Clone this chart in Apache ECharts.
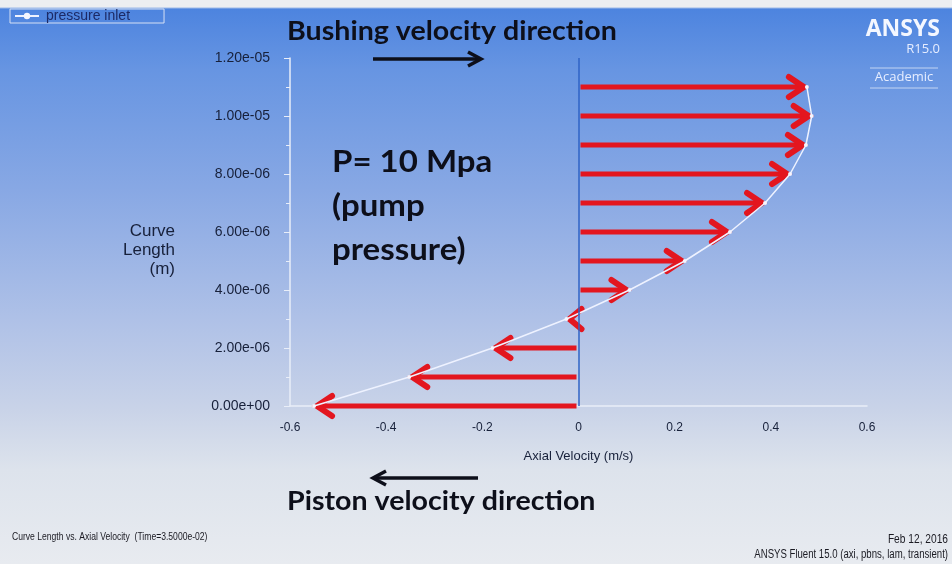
<!DOCTYPE html>
<html>
<head>
<meta charset="utf-8">
<script src="https://cdn.jsdelivr.net/npm/echarts@6/dist/echarts.min.js"></script>
<style>
  html, body { margin: 0; padding: 0; }
  #main {
    width: 952px;
    height: 564px;
    background: linear-gradient(to bottom, #eceef1 0px, #eceef1 7px, #4d84df 9px, #6795e2 70px, #88a8e4 190px, #afc1e7 320px, #c9d3e8 410px, #dde3ec 470px, #e8ebf0 564px);
  }
</style>
</head>
<body>
<div id="main"></div>
<script>
// curve length along the inlet (m) and axial velocity at each point (m/s)
const curveLength = [0, 1e-6, 2e-6, 3e-6, 4e-6, 5e-6, 6e-6, 7e-6, 8e-6, 9e-6, 1e-5, 1.1e-5]
const axialVelocity = [-0.55, -0.352, -0.179, -0.025, 0.106, 0.221, 0.315, 0.388, 0.44, 0.473, 0.485, 0.475]
const seriesName = 'pressure inlet'

const points = axialVelocity.map((v, i) => [v, curveLength[i]])

// 1.2e-5 -> "1.20e-05", the way fluent prints it
function sci(v) {
  if (Math.abs(v) < 1e-15) return '0.00e+00'
  const e = Math.floor(Math.log10(Math.abs(v)) + 1e-9)
  const m = v / Math.pow(10, e)
  const ex = Math.abs(e)
  return m.toFixed(2) + 'e' + (e < 0 ? '-' : '+') + (ex < 10 ? '0' + ex : ex)
}

const labelColor = '#17203a'
const ink = '#0d0f1a'
const bold = 'Lato, "Open Sans", sans-serif'
const small = 'Arial, "Liberation Sans", sans-serif'

// plain text helper, drawn at (x, y) and squeezed/stretched horizontally
function label(text, x, y, font, sx, align, extra) {
  return {
    type: 'text', silent: true, x: x, y: y, scaleX: sx,
    style: Object.assign({ text: text, x: 0, y: 0, font: font, fill: ink, align: align, verticalAlign: 'top' }, extra || {})
  }
}

const chart = echarts.init(document.getElementById('main'))
chart.setOption({
  backgroundColor: 'transparent',
  animation: false,
  grid: { left: 290, right: 85, top: 58, bottom: 158 },
  legend: {
    left: 10,
    top: 9,
    padding: [0, 34, 0, 4],
    borderColor: '#d6e0f4',
    borderWidth: 1,
    itemWidth: 24,
    itemHeight: 8,
    itemGap: 0,
    textStyle: { color: '#1c2a66', fontSize: 14, fontFamily: small, padding: [0, 0, 0, 2] },
    data: [seriesName]
  },
  xAxis: {
    type: 'value',
    min: -0.6,
    max: 0.6,
    interval: 0.2,
    splitLine: { show: false },
    axisLine: { onZero: false, lineStyle: { color: '#e9eef8', width: 1.5 } },
    axisTick: { show: false },
    axisLabel: { margin: 16, color: labelColor, fontSize: 12, fontFamily: small },
    name: 'Axial Velocity (m/s)',
    nameLocation: 'middle',
    nameGap: 44,
    nameTextStyle: { color: labelColor, fontSize: 13, fontFamily: small }
  },
  yAxis: {
    type: 'value',
    min: 0,
    max: 1.2e-5,
    interval: 2e-6,
    splitLine: { show: false },
    axisLine: { show: true, onZero: false, lineStyle: { color: '#e9eef8', width: 1.5 } },
    axisTick: { show: true, length: 6, lineStyle: { color: '#e9eef8' } },
    minorTick: { show: true, splitNumber: 2, length: 4, lineStyle: { color: '#e9eef8' } },
    axisLabel: { margin: 20, color: labelColor, fontSize: 14, fontFamily: small, formatter: sci }
  },
  series: [
    {
      name: 'arrows',
      type: 'custom',
      data: points,
      encode: { x: 0, y: 1 },
      z: 3,
      renderItem: (params, api) => {
        const tip = api.coord([api.value(0), api.value(1)])
        const base = api.coord([0, api.value(1)])
        const dir = tip[0] >= base[0] ? 1 : -1
        const len = Math.abs(tip[0] - base[0])
        const h = Math.min(15, len)
        const w = 10
        const t = [tip[0] - dir * 3, tip[1]]
        const children = []
        if (len > 16) {
          children.push({
            type: 'polyline',
            shape: { points: [[base[0] + dir * 2, base[1]], [t[0] - dir * 3, t[1]]] },
            style: { stroke: '#e3161f', lineWidth: 5, fill: null }
          })
        }
        children.push({
          type: 'polyline',
          shape: { points: [[t[0] - dir * h, t[1] - w], t, [t[0] - dir * h, t[1] + w]] },
          style: { stroke: '#e3161f', lineWidth: 6, fill: null, lineJoin: 'miter', lineCap: 'round' }
        })
        return { type: 'group', children: children }
      },
      markLine: {
        silent: true,
        symbol: 'none',
        label: { show: false },
        lineStyle: { color: '#2f63c6', width: 1.5, type: 'solid' },
        data: [{ xAxis: 0 }]
      }
    },
    {
      name: seriesName,
      type: 'line',
      data: points,
      z: 4,
      symbol: 'circle',
      symbolSize: 4,
      itemStyle: { color: '#f4f6ff' },
      lineStyle: { color: '#eef2ff', width: 1.5 }
    }
  ],
  graphic: [
    label('Bushing velocity direction', 287, 19, 'bold 26px ' + bold, 1.1, 'left'),
    {
      type: 'polyline', silent: true,
      shape: { points: [[373, 59], [480, 59]] },
      style: { stroke: ink, lineWidth: 3.5 }
    },
    {
      type: 'polyline', silent: true,
      shape: { points: [[468, 52], [481, 59], [468, 66]] },
      style: { stroke: ink, lineWidth: 3.5, fill: null }
    },
    label('P= 10 Mpa\n(pump\npressure)', 332, 140, 'bold 30px ' + bold, 1.1, 'left', { lineHeight: 44 }),
    label('Piston velocity direction', 287, 489, 'bold 26px ' + bold, 1.1, 'left'),
    {
      type: 'polyline', silent: true,
      shape: { points: [[373, 478], [478, 478]] },
      style: { stroke: ink, lineWidth: 3.5 }
    },
    {
      type: 'polyline', silent: true,
      shape: { points: [[386, 471], [373, 478], [386, 485]] },
      style: { stroke: ink, lineWidth: 3.5, fill: null }
    },
    label('Curve\nLength\n(m)', 175, 222, '17px ' + small, 1, 'right', { lineHeight: 19, fill: labelColor }),
    label('ANSYS', 940, 18, 'bold 23px "Open Sans", sans-serif', 1, 'right', { fill: '#f4f7ff' }),
    label('R15.0', 940, 43, '13px "Open Sans", sans-serif', 1, 'right', { fill: '#e6edff' }),
    {
      type: 'polyline', silent: true,
      shape: { points: [[870, 68], [938, 68]] },
      style: { stroke: 'rgba(255,255,255,0.6)', lineWidth: 1 }
    },
    {
      type: 'polyline', silent: true,
      shape: { points: [[870, 88], [938, 88]] },
      style: { stroke: 'rgba(255,255,255,0.6)', lineWidth: 1 }
    },
    label('Academic', 904, 71, '13px "Open Sans", sans-serif', 1, 'center', { fill: '#e6edff' }),
    label('Curve Length vs. Axial Velocity  (Time=3.5000e-02)', 12, 531, '11px ' + small, 0.78, 'left', { fill: '#1a1a22' }),
    label('Feb 12, 2016', 948, 534, '12px ' + small, 0.85, 'right', { fill: '#1a1a22' }),
    label('ANSYS Fluent 15.0 (axi, pbns, lam, transient)', 948, 549, '12px ' + small, 0.8, 'right', { fill: '#1a1a22' })
  ]
})
</script>
</body>
</html>
